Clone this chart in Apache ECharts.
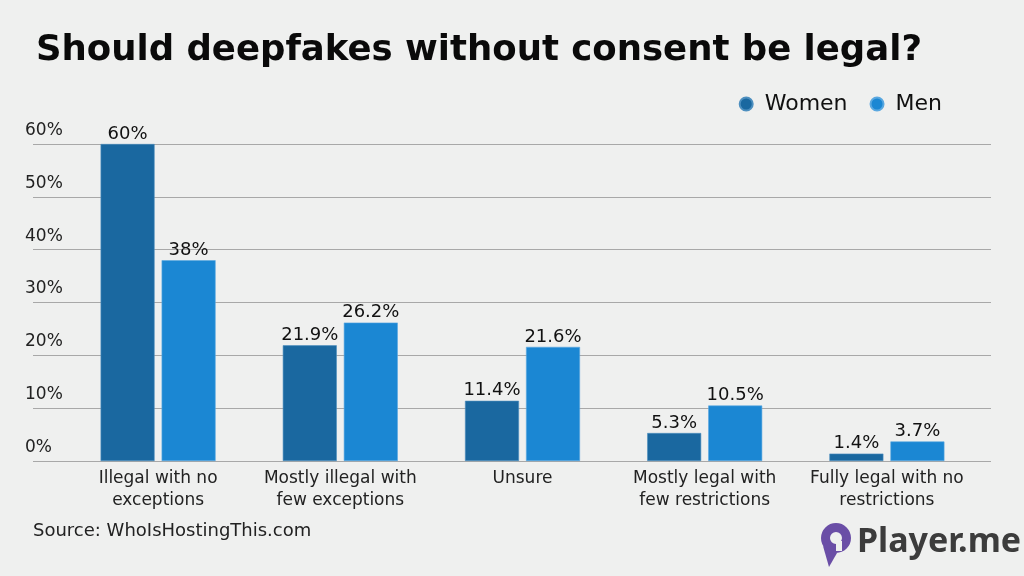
<!DOCTYPE html>
<html><head><meta charset="utf-8">
<script src="https://cdn.jsdelivr.net/npm/echarts@6/dist/echarts.min.js"></script>
<style>html,body{margin:0;padding:0;background:#eff0ef;}#c{width:1024px;height:576px;}</style>
</head><body><div id="c"></div>
<script>
const categories = ['Illegal with no\nexceptions','Mostly illegal with\nfew exceptions','Unsure','Mostly legal with\nfew restrictions','Fully legal with no\nrestrictions'];
const women = [60, 21.9, 11.4, 5.3, 1.4];
const men = [38, 26.2, 21.6, 10.5, 3.7];
const seriesNames = ['Women','Men'];
const colors = ['#1a68a0','#1b87d3'];
const FONT = '"DejaVu Sans", sans-serif';

const chart = echarts.init(document.getElementById('c'));
const barLabel = {show:true, position:'top', distance:1, fontSize:18, color:'#111', fontFamily:FONT,
  formatter: p => p.value + '%'};
chart.setOption({
  backgroundColor:'#eff0ef',
  animation:false,
  title:{text:'Should deepfakes without consent be legal?', left:31, top:28,
    textStyle:{fontSize:35.5, fontWeight:'bold', color:'#0a0a0a', fontFamily:FONT}},
  legend:{data:seriesNames, right:77, top:88, icon:'circle', itemWidth:13, itemHeight:13, itemGap:22,
    textStyle:{fontSize:22, color:'#111', fontFamily:FONT, padding:[0,0,0,7]}},
  grid:[
    {left:33, right:33, top:144, bottom:115},
    {left:67, right:46, top:144, bottom:115}
  ],
  xAxis:[
    {gridIndex:0, type:'value', show:false, min:0, max:1},
    {gridIndex:1, type:'category', data:categories, axisLine:{show:false}, axisTick:{show:false},
      axisLabel:{fontSize:17, color:'#222', lineHeight:22, margin:7, fontFamily:FONT, interval:0}}
  ],
  yAxis:[
    {gridIndex:0, type:'value', min:0, max:60, interval:10,
      axisLine:{show:false}, axisTick:{show:false},
      splitLine:{lineStyle:{color:'#a8a8a8', width:1}},
      axisLabel:{inside:true, margin:-8, verticalAlign:'bottom', padding:[0,0,5,0], fontSize:17, color:'#222', fontFamily:FONT,
        formatter: v => v + '%'}},
    {gridIndex:1, type:'value', min:0, max:60, interval:10, show:false}
  ],
  series:[
    {name:seriesNames[0], type:'bar', xAxisIndex:1, yAxisIndex:1, data:women, barWidth:54, barGap:'13%',
      itemStyle:{color:colors[0], borderColor:'#4d8fbf', borderWidth:0.6}, label:barLabel},
    {name:seriesNames[1], type:'bar', xAxisIndex:1, yAxisIndex:1, data:men, barWidth:54, barGap:'13%',
      itemStyle:{color:colors[1], borderColor:'#5aa8e0', borderWidth:0.6}, label:barLabel}
  ],
  graphic:[
    {type:'text', left:33, top:522, style:{text:'Source: WhoIsHostingThis.com', fontSize:18, fill:'#222', fontFamily:FONT}},
    {type:'ring', shape:{cx:836, cy:538, r:15, r0:6}, style:{fill:'#6a4ea6'}},
    {type:'polygon', shape:{points:[[823,546],[837,553],[829,567]]}, style:{fill:'#6a4ea6'}},
    {type:'rect', shape:{x:836, y:541, width:6, height:10}, style:{fill:'#eff0ef'}},
    {type:'text', left:857, top:525, style:{text:'Player.me', fontSize:34, fontWeight:'bold', fill:'#3c3c3c', fontFamily:'"Noto Sans", sans-serif'}}
  ]
});
</script></body></html>
